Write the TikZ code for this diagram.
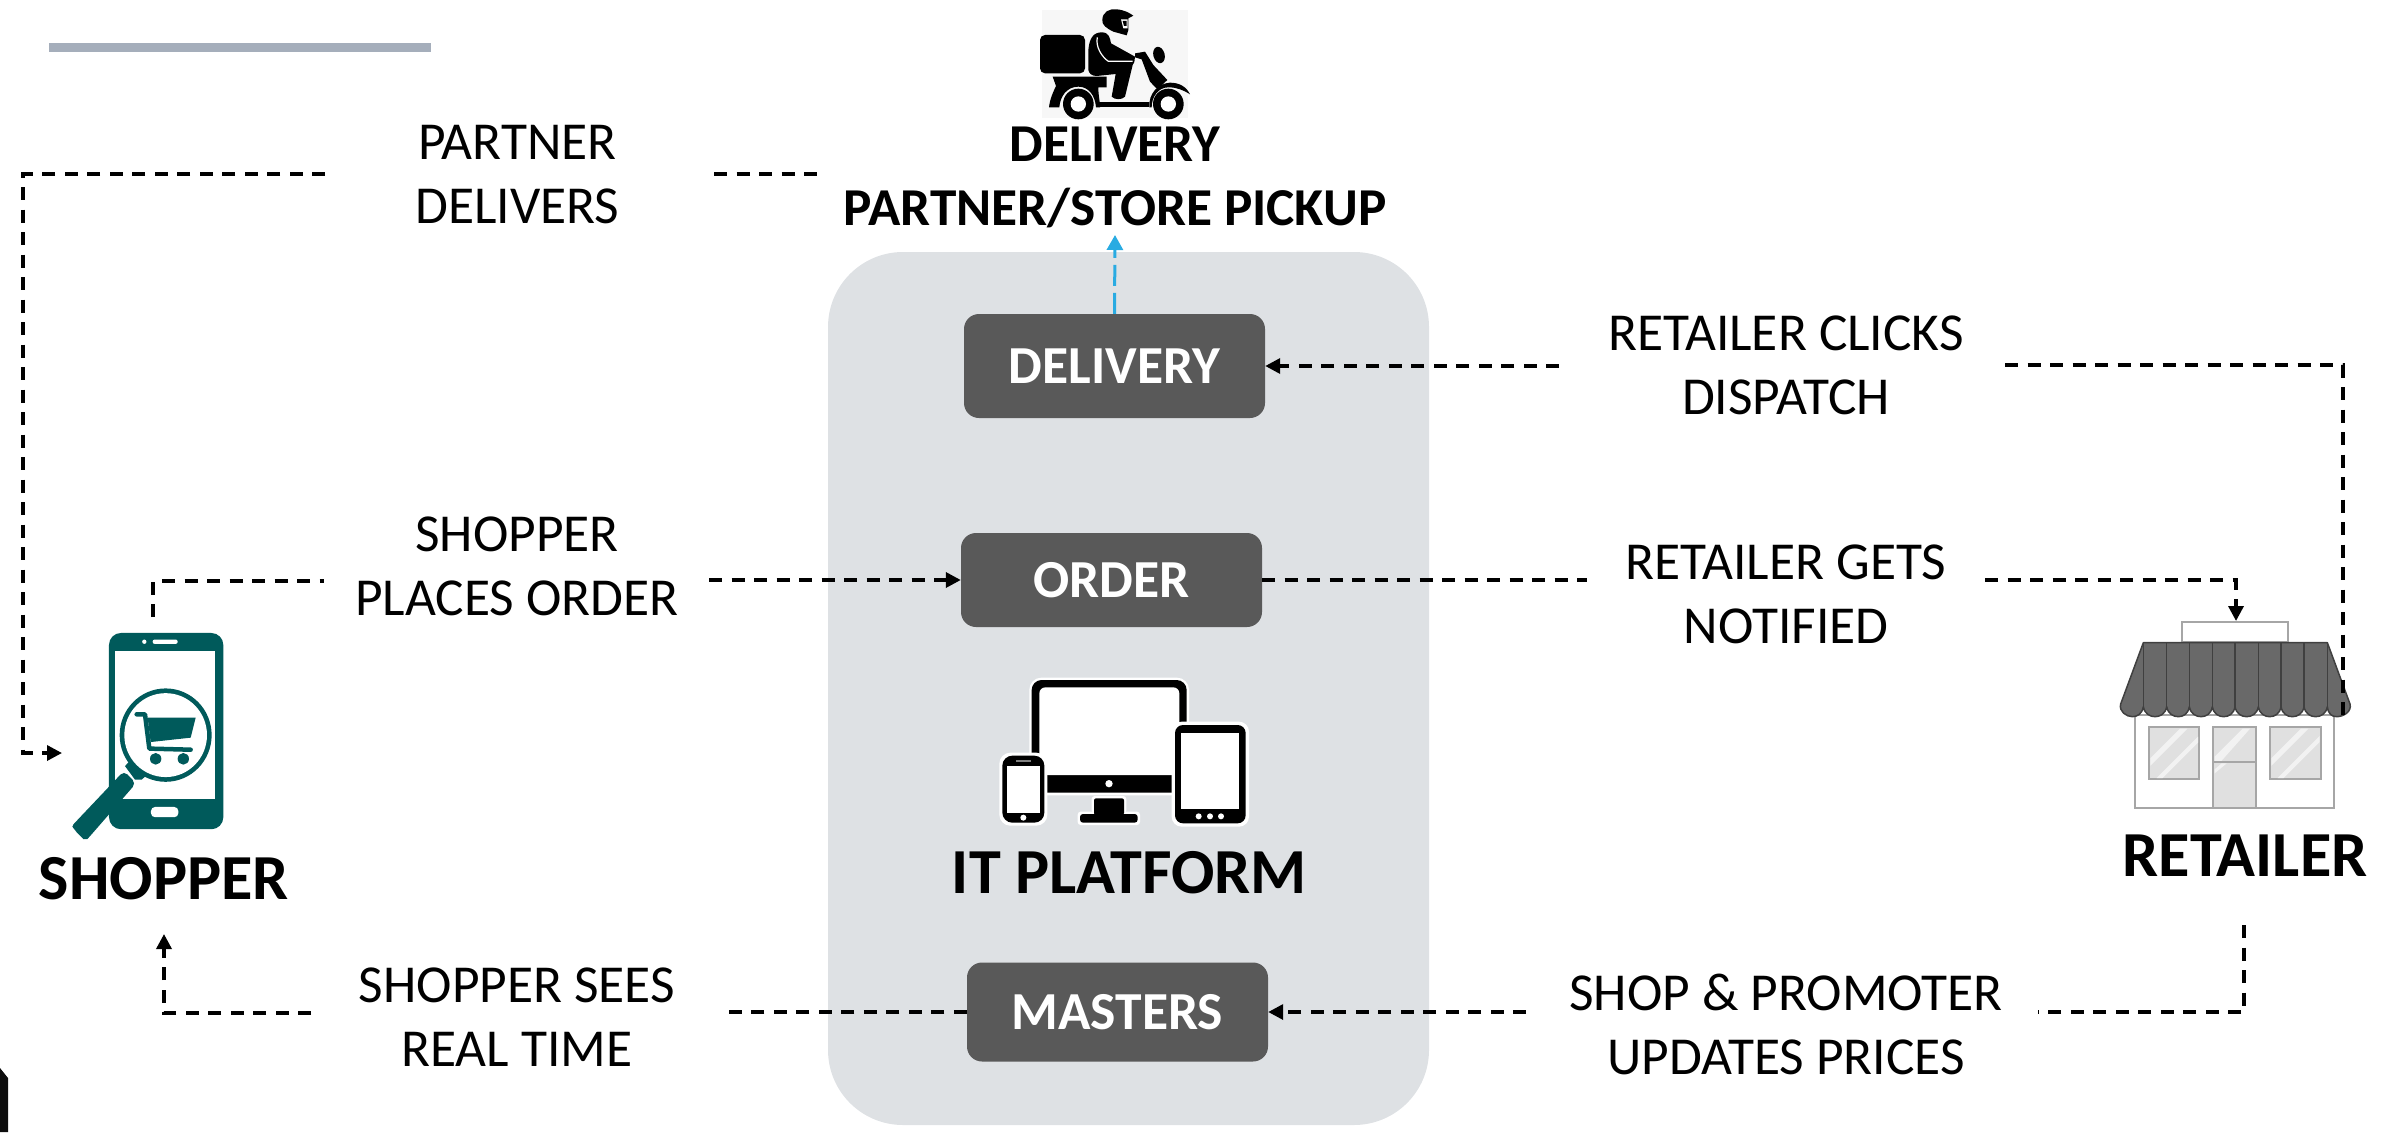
\documentclass[tikz,border=0pt]{standalone}
\usepackage{fontspec}
\setmainfont{Carlito}
\usetikzlibrary{arrows.meta,calc}
\definecolor{panel}{HTML}{DEE1E4}
\definecolor{boxgray}{HTML}{595959}
\definecolor{tealc}{HTML}{005A5B}
\definecolor{barc}{HTML}{A5AEBB}
\definecolor{cyanline}{HTML}{29ABE2}
\definecolor{storegray}{HTML}{A6A6A6}
\definecolor{awning}{HTML}{696969}
\definecolor{awnline}{HTML}{404040}
\definecolor{glass}{HTML}{E0E0E0}
\definecolor{streak}{HTML}{F2F2F2}
\tikzset{
  flow/.style={line width=3.4pt,dash pattern=on 13pt off 9.5pt,black},
  flowarrow/.style={flow,-{Triangle[length=15pt,width=15pt,sep=0pt]}},
  stepbox/.style={fill=boxgray,rounded corners=15pt,text=white,inner sep=0pt,font=\fontsize{53.5}{60}\selectfont\bfseries,draw=none},
  steplabel/.style={align=center,inner sep=0pt,text=black,font=\fontsize{53.4}{64}\selectfont},
  headlabel/.style={align=center,inner sep=0pt,text=black,font=\fontsize{53.3}{64}\selectfont\bfseries},
  biglabel/.style={align=center,inner sep=0pt,text=black,font=\fontsize{64.2}{72}\selectfont\bfseries},
  zoomed/.style={x=0.33333pt,y=-0.33333pt},
  zoomedtall/.style={x=0.33333pt,y=-0.3648pt}
}
\begin{document}
\begin{tikzpicture}[x=1pt,y=-1pt]
\useasboundingbox (0,0) rectangle (2381,1132);
% decoration
\fill[barc] (49,43) rectangle (431,52);
\fill[black!95] (0,1068) -- (8,1078) -- (8,1132) -- (0,1132) -- cycle;
% panel
\fill[panel,rounded corners=75pt] (828,252) rectangle (1429,1125);
% boxes
\node[stepbox,minimum width=301pt,minimum height=104pt] (delivery) at (1114.5,366) {\raisebox{-1.5pt}{DELIVERY}};
\node[stepbox,minimum width=301pt,minimum height=94pt] (order) at (1111.5,580) {ORDER};
\node[stepbox,minimum width=301pt,minimum height=99pt] (masters) at (1117.5,1012) {MASTERS};
% labels
\node[steplabel] (lpartner) at (517.5,174.5) {PARTNER\\DELIVERS};
\node[steplabel] (lclicks) at (1786,365) {RETAILER CLICKS\\DISPATCH};
\node[steplabel] (lplaces) at (517,566) {SHOPPER\\PLACES ORDER};
\node[steplabel] (lnotified) at (1786,594) {RETAILER GETS\\NOTIFIED};
\node[steplabel] (lsees) at (517,1017) {SHOPPER SEES\\REAL TIME};
\node[steplabel] (lupdates) at (1786,1024) {SHOP \& PROMOTER\\UPDATES PRICES};
\node[headlabel] (ldelivery) at (1115,177) {DELIVERY\\PARTNER/STORE PICKUP};
\node[biglabel] (lshopper) at (164,879) {SHOPPER};
\node[biglabel] (lretailer) at (2245,856) {RETAILER};
\node[biglabel] (lplatform) at (1129.5,873) {IT PLATFORM};
% scooter
\begin{scope}[shift={(950,0)},zoomed]
\fill[black!3] (275,30) rectangle (715,355);
\fill[black,rounded corners=5pt] (270,105) rectangle (405,220);
% helmet
\fill[black] (457,60) .. controls (457,35) and (480,25) .. (500,28) .. controls (525,30) and (540,40) .. (550,47) -- (535,55) -- (535,90) -- (530,106) -- (490,95) .. controls (470,85) and (455,75) .. (457,60) -- cycle;
\fill[white] (513,58) -- (533,58) -- (533,85) -- (520,85) -- cycle;
\fill[black] (518,63) -- (530,63) -- (530,78) -- (522,78) -- cycle;
% rider
\fill[black] (415,210) -- (415,150) .. controls (418,115) and (430,97) .. (455,97) .. controls (478,97) and (480,115) .. (483,130) -- (555,170) -- (553,186) -- (548,195) -- (525,290) .. controls (515,300) and (495,300) .. (485,290) -- (497,222) -- (440,228) .. controls (425,228) and (417,220) .. (415,210) -- cycle;
\draw[white,line width=1.2pt] (442,112) .. controls (436,140) and (455,170) .. (475,184) -- (548,184);
% frame
\fill[black] (555,160) -- (585,155) -- (610,195) -- (652,240) -- (622,268) -- (600,245) -- (575,178) -- (555,172) -- cycle;
\fill[black,rotate around={15:(627,165)}] (627,165) ellipse [x radius=17,y radius=25];
% fender front
\fill[black] (598,322) .. controls (595,280) and (625,250) .. (660,248) .. controls (690,248) and (710,262) .. (720,283) .. controls (700,270) and (680,262) .. (655,262) .. controls (625,262) and (605,290) .. (605,322) -- cycle;
% deck
\fill[black] (445,305) -- (598,305) -- (598,322) -- (445,322) -- cycle;
% rear fender
\fill[black] (308,230) -- (470,230) -- (470,262) -- (445,262) .. controls (445,290) and (450,300) .. (450,322) -- (438,322) .. controls (435,285) and (415,260) .. (385,260) .. controls (350,260) and (330,290) .. (328,322) -- (297,322) .. controls (300,295) and (310,275) .. (318,258) -- cycle;
% wheels
\fill[black] (385,312) circle (46);
\fill[white] (385,312) circle (23);
\fill[black] (655,312) circle (46);
\fill[white] (655,312) circle (23);
\end{scope}
% shopper phone
\begin{scope}[shift={(0,560)},zoomedtall]
\fill[tealc,rounded corners=12pt] (327,200) rectangle (670,738);
\fill[white] (346,250) rectangle (646,655);
\fill[white] (433,224) circle [x radius=6.5,y radius=6];
\fill[white,rounded corners=2pt] (458,218) rectangle (533,230);
\fill[white,rounded corners=4pt] (453,677) rectangle (535,705);
% handle
\draw[white,line width=6.5pt,line cap=round] (390,590) -- (255,725);
\fill[tealc,rounded corners=5pt] (372,578) -- (408,612) -- (272,755) .. controls (262,765) and (250,765) .. (240,755) -- (225,742) .. controls (218,732) and (220,725) .. (230,715) -- cycle;
\fill[tealc] (375,565) -- (390,550) -- (440,590) -- (425,602) -- (405,602) -- cycle;
% lens
\fill[tealc] (497,480) circle [x radius=138,y radius=128];
\fill[white] (497,480) circle [x radius=124,y radius=115];
% cart
\fill[tealc] (443,432) -- (587,432) -- (572,487) -- (452,499) -- cycle;
\draw[tealc,line width=4.5pt,line cap=round,line join=round] (410,423) -- (435,423) -- (448,517) -- (572,520);
\fill[tealc] (467,545) circle [x radius=17,y radius=16];
\fill[tealc] (550,545) circle [x radius=17,y radius=16];
\end{scope}
% devices
\begin{scope}[shift={(940,640)},zoomed]
\fill[white,rounded corners=12pt] (268,113) rectangle (747,466);
\fill[black,rounded corners=10pt] (275,120) rectangle (740,458);
\fill[white,rounded corners=6pt] (298,142) -- (718,142) -- (718,405) -- (298,405) -- cycle;
\fill[white] (507,431) circle (11);
\fill[white,rounded corners=3pt] (413,515) rectangle (600,555);
\fill[white,rounded corners=3pt] (455,468) rectangle (559,520);
\fill[black,rounded corners=2pt] (462,475) rectangle (552,525);
\fill[black,rounded corners=3pt] (420,522) rectangle (593,548);
% tablet
\fill[white,rounded corners=10pt] (695,245) rectangle (927,560);
\fill[black,rounded corners=8pt] (705,255) rectangle (917,550);
\fill[white] (723,280) rectangle (897,508);
\foreach \dx in {776,810,843} {\fill[white] (\dx,529) circle (9);}
% phone
\fill[white,rounded corners=11pt] (178,338) rectangle (322,557);
\fill[black,rounded corners=10pt] (187,347) rectangle (313,548);
\fill[white] (200,377) rectangle (301,518);
\fill[gray] (228,359) rectangle (272,366);
\fill[white] (250,533) circle (9);
\end{scope}
% store
\begin{scope}[shift={(2080,560)},zoomed]
\draw[storegray,line width=2pt,fill=white] (307,186) rectangle (624,246);
\draw[storegray,line width=2pt,fill=white] (165,465) rectangle (763,745);
\draw[storegray,line width=2pt,fill=glass] (207,502) rectangle (358,657);
\draw[storegray,line width=2pt,fill=glass] (570,502) rectangle (723,657);
\draw[storegray,line width=2pt,fill=glass] (400,502) rectangle (528,745);
\fill[streak] (211,595) -- (300,506) -- (322,506) -- (211,617) -- cycle;
\fill[streak] (230,654) -- (354,530) -- (354,548) -- (248,654) -- cycle;
\fill[streak] (574,595) -- (663,506) -- (685,506) -- (574,617) -- cycle;
\fill[streak] (593,654) -- (719,528) -- (719,546) -- (611,654) -- cycle;
\fill[streak] (404,590) -- (488,506) -- (510,506) -- (424,603) -- (404,603) -- cycle;
\fill[streak] (404,640) -- (440,610) -- (425,610) -- (404,628) -- cycle;
\draw[storegray,line width=2pt] (400,607) -- (528,607);
\draw[awnline,line width=1.5pt,fill=awning,line join=round]
  (190,248) -- (742,248) -- (810,432)
  .. controls (816,455) and (790,470) .. (770,470) .. controls (755,470) and (745,462) .. (742,440)
  .. controls (738,462) and (722,470) .. (707,470) .. controls (692,470) and (676,462) .. (672,440)
  .. controls (668,462) and (652,470) .. (637,470) .. controls (622,470) and (607,462) .. (603,440)
  .. controls (599,462) and (584,470) .. (569,470) .. controls (554,470) and (539,462) .. (535,440)
  .. controls (531,462) and (515,470) .. (500,470) .. controls (485,470) and (469,462) .. (465,440)
  .. controls (461,462) and (446,470) .. (431,470) .. controls (416,470) and (401,462) .. (397,440)
  .. controls (393,462) and (378,470) .. (363,470) .. controls (348,470) and (332,462) .. (328,440)
  .. controls (324,462) and (310,470) .. (295,470) .. controls (280,470) and (264,462) .. (260,440)
  .. controls (256,462) and (240,470) .. (225,470) .. controls (210,470) and (194,462) .. (190,440)
  .. controls (186,462) and (172,470) .. (157,470) .. controls (140,470) and (116,455) .. (122,432) -- cycle;
\foreach \rx in {190,260,328,397,465,535,603,672,742} {\draw[awnline,line width=1.5pt] (\rx,248) -- (\rx,440);}
\end{scope}
% connector ends
\coordinate (a1) at (325,174);
\coordinate (a2) at (23,174);
\coordinate (a3) at (23,753);
\coordinate (a4) at (62,753);
\coordinate (b1) at (714,174);
\coordinate (b2) at (817,174);
\coordinate (c1) at (153,617);
\coordinate (c2) at (153,581);
\coordinate (c3) at (324,581);
\coordinate (d1) at (709,580);
\coordinate (e1) at (1115,235);
\coordinate (f1) at (2005,365);
\coordinate (f2) at (2343,365);
\coordinate (f3) at (2343,716);
\coordinate (f4) at (2350,716);
\coordinate (g1) at (1559,366);
\coordinate (h1) at (1587,580);
\coordinate (i1) at (1985,580);
\coordinate (i2) at (2236,580);
\coordinate (i3) at (2236,621);
\coordinate (j1) at (2244,925);
\coordinate (j2) at (2244,1012);
\coordinate (j3) at (2038,1012);
\coordinate (k1) at (1526,1012);
\coordinate (m1) at (729,1012);
\coordinate (n1) at (311,1013);
\coordinate (n2) at (164,1013);
\coordinate (n3) at (164,934);
% connectors
\draw[flowarrow] (a1) -- (a2) -- (a3) -- (a4);
\draw[flow] (b1) -- (b2);
\draw[flow] (c1) -- (c2) -- (c3);
\draw[flowarrow] (d1) -- (order.west);
\draw[flowarrow,cyanline,line width=3pt,dash pattern=on 21pt off 7pt,-{Triangle[length=15pt,width=16pt,sep=0pt]}] (delivery.north) -- (e1);
\draw[flow] (f1) -- (f2) -- (f3) -- (f4);
\draw[flowarrow] (g1) -- (delivery.east);
\draw[flow] (order.east) -- (h1);
\draw[flowarrow] (i1) -- (i2) -- (i3);
\draw[flow] (j1) -- (j2) -- (j3);
\draw[flowarrow] (k1) -- (masters.east);
\draw[flow] (masters.west) -- (m1);
\draw[flowarrow] (n1) -- (n2) -- (n3);
\end{tikzpicture}
\end{document}
